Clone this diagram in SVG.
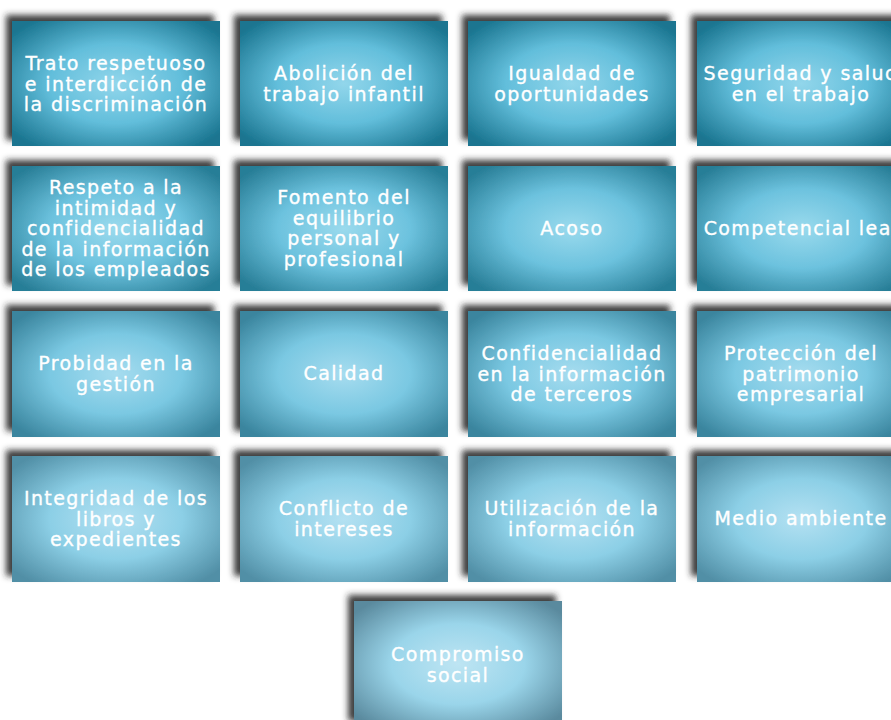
<svg xmlns="http://www.w3.org/2000/svg" width="891" height="720" viewBox="0 0 891 720">
<defs>
<filter id="sh" x="-10%" y="-15%" width="120%" height="130%">
<feDropShadow dx="-6" dy="-6" stdDeviation="3.2" flood-color="#262626" flood-opacity="0.9"/>
</filter>
<radialGradient id="g1" cx="0.5" cy="0.5" r="0.64">
<stop offset="0" stop-color="#92d6eb"/><stop offset="0.5" stop-color="#62bedb"/><stop offset="1" stop-color="#1a7590"/>
</radialGradient>
<radialGradient id="g2" cx="0.5" cy="0.5" r="0.64">
<stop offset="0" stop-color="#9adaed"/><stop offset="0.5" stop-color="#6cc2de"/><stop offset="1" stop-color="#287e97"/>
</radialGradient>
<radialGradient id="g3" cx="0.5" cy="0.5" r="0.64">
<stop offset="0" stop-color="#a6dcef"/><stop offset="0.5" stop-color="#7ac8e2"/><stop offset="1" stop-color="#3a859e"/>
</radialGradient>
<radialGradient id="g4" cx="0.5" cy="0.5" r="0.64">
<stop offset="0" stop-color="#b4e1f2"/><stop offset="0.5" stop-color="#8ccfe6"/><stop offset="1" stop-color="#518fa6"/>
</radialGradient>
<radialGradient id="g5" cx="0.5" cy="0.5" r="0.64">
<stop offset="0" stop-color="#bee5f3"/><stop offset="0.5" stop-color="#9ad5ea"/><stop offset="1" stop-color="#5a8a9e"/>
</radialGradient>
</defs>
<style>
rect{filter:url(#sh)}
text{font-family:"DejaVu Sans","Open Sans",sans-serif;font-size:19px;letter-spacing:1.4px;fill:#ffffff;stroke:#ffffff;stroke-width:0.35px;text-anchor:middle}
</style>
<rect width="891" height="720" fill="#ffffff" style="filter:none"/>
<g id="n1"><rect x="12" y="21" width="208" height="125" fill="url(#g1)"/><text x="116"><tspan y="70">Trato respetuoso</tspan><tspan x="116" y="90.5">e interdicción de</tspan><tspan x="116" y="111">la discriminación</tspan></text></g>
<g id="n2"><rect x="240" y="21" width="208" height="125" fill="url(#g1)"/><text x="344"><tspan y="80">Abolición del</tspan><tspan x="344" y="100.5">trabajo infantil</tspan></text></g>
<g id="n3"><rect x="468" y="21" width="208" height="125" fill="url(#g1)"/><text x="572"><tspan y="80">Igualdad de</tspan><tspan x="572" y="100.5">oportunidades</tspan></text></g>
<g id="n4"><rect x="697" y="21" width="208" height="125" fill="url(#g1)"/><text x="801"><tspan y="80">Seguridad y salud</tspan><tspan x="801" y="100.5">en el trabajo</tspan></text></g>

<g id="n5"><rect x="12" y="166" width="208" height="125" fill="url(#g2)"/><text x="116"><tspan y="194">Respeto a la</tspan><tspan x="116" y="214.5">intimidad y</tspan><tspan x="116" y="235">confidencialidad</tspan><tspan x="116" y="255.5">de la información</tspan><tspan x="116" y="276">de los empleados</tspan></text></g>
<g id="n6"><rect x="240" y="166" width="208" height="125" fill="url(#g2)"/><text x="344"><tspan y="204">Fomento del</tspan><tspan x="344" y="224.5">equilibrio</tspan><tspan x="344" y="245">personal y</tspan><tspan x="344" y="265.5">profesional</tspan></text></g>
<g id="n7"><rect x="468" y="166" width="208" height="125" fill="url(#g2)"/><text x="572" y="235">Acoso</text></g>
<g id="n8"><rect x="697" y="166" width="208" height="125" fill="url(#g2)"/><text x="801" y="235">Competencial leal</text></g>

<g id="n9"><rect x="12" y="311" width="208" height="126" fill="url(#g3)"/><text x="116"><tspan y="370">Probidad en la</tspan><tspan x="116" y="390.5">gestión</tspan></text></g>
<g id="n10"><rect x="240" y="311" width="208" height="126" fill="url(#g3)"/><text x="344" y="380">Calidad</text></g>
<g id="n11"><rect x="468" y="311" width="208" height="126" fill="url(#g3)"/><text x="572"><tspan y="360">Confidencialidad</tspan><tspan x="572" y="380.5">en la información</tspan><tspan x="572" y="401">de terceros</tspan></text></g>
<g id="n12"><rect x="697" y="311" width="208" height="126" fill="url(#g3)"/><text x="801"><tspan y="360">Protección del</tspan><tspan x="801" y="380.5">patrimonio</tspan><tspan x="801" y="401">empresarial</tspan></text></g>

<g id="n13"><rect x="12" y="456" width="208" height="126" fill="url(#g4)"/><text x="116"><tspan y="505">Integridad de los</tspan><tspan x="116" y="525.5">libros y</tspan><tspan x="116" y="546">expedientes</tspan></text></g>
<g id="n14"><rect x="240" y="456" width="208" height="126" fill="url(#g4)"/><text x="344"><tspan y="515">Conflicto de</tspan><tspan x="344" y="535.5">intereses</tspan></text></g>
<g id="n15"><rect x="468" y="456" width="208" height="126" fill="url(#g4)"/><text x="572"><tspan y="515">Utilización de la</tspan><tspan x="572" y="535.5">información</tspan></text></g>
<g id="n16"><rect x="697" y="456" width="208" height="126" fill="url(#g4)"/><text x="801" y="525">Medio ambiente</text></g>

<g id="n17"><rect x="354" y="601" width="208" height="126" fill="url(#g5)"/><text x="458"><tspan y="661">Compromiso</tspan><tspan x="458" y="681.5">social</tspan></text></g>
<g id="connectors"/>
</svg>
